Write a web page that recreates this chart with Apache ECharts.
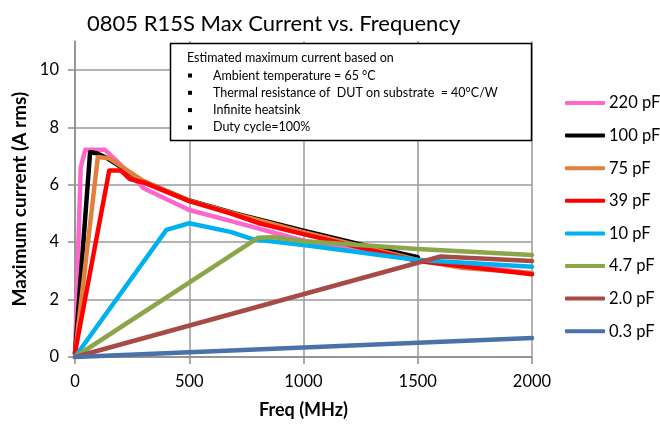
<!DOCTYPE html>
<html>
<head>
<meta charset="utf-8">
<script src="https://cdn.jsdelivr.net/npm/echarts@6/dist/echarts.min.js"></script>
<style>html,body{margin:0;padding:0;background:#fff;}#c{width:660px;height:424px;}</style>
</head>
<body>
<div id="c"></div>
<script>
// ---- data (freq MHz, current A rms) ----
const seriesNames = ['220 pF', '100 pF', '75 pF', '39 pF', '10 pF', '4.7 pF', '2.0 pF', '0.3 pF'];
const s220 = [[0,0.1],[25,6.6],[45,7.22],[130,7.22],[180,6.85],[300,5.88],[500,5.12],[700,4.7],[1000,4.05],[1500,3.4],[2000,2.92]];
const s100 = [[0,0.1],[66,7.13],[95,7.1],[140,6.93],[200,6.62],[300,6.12],[500,5.45],[700,5.0],[1000,4.4],[1250,3.92],[1500,3.48]];
const s75  = [[0,0.1],[100,6.97],[150,6.92],[200,6.66],[300,6.12],[500,5.45],[700,4.98],[1000,4.35],[1500,3.38],[1700,3.1],[2000,2.93]];
const s39  = [[0,0.15],[150,6.5],[200,6.5],[240,6.2],[300,6.08],[500,5.43],[680,5.0],[810,4.65],[1000,4.28],[1500,3.34],[2000,2.88]];
const s10  = [[0,0],[400,4.43],[500,4.66],[680,4.36],[780,4.1],[1000,3.9],[1500,3.38],[2000,3.14]];
const s4_7 = [[0,0],[800,4.15],[870,4.17],[1000,4.03],[1500,3.76],[2000,3.55]];
const s2_0 = [[0,0],[1600,3.5],[2000,3.34]];
const s0_3 = [[0,0],[2000,0.66]];
const xTicks = [0, 500, 1000, 1500, 2000];
const yTicks = [0, 2, 4, 6, 8, 10];
const noteTitle = 'Estimated maximum current based on';
const noteItems = ['Ambient temperature = 65 °C', 'Thermal resistance of  DUT on substrate  = 40°C/W', 'Infinite heatsink', 'Duty cycle=100%'];

const colors = ['#ff66cc', '#000000', '#e0803c', '#ff0000', '#00b0f0', '#8aa64a', '#a84a45', '#4a72a8'];
const allData = [s220, s100, s75, s39, s10, s4_7, s2_0, s0_3];
const FONT = 'Lato';

const chart = echarts.init(document.getElementById('c'));

const graphics = [
  { type: 'rect', z: 100, shape: { x: 170.5, y: 43.5, width: 361, height: 97 },
    style: { fill: '#fff', stroke: '#000', lineWidth: 1.5 } },
  { type: 'text', z: 101, x: 187, y: 58,
    style: { text: noteTitle, font: '12.5px ' + FONT, fill: '#000', verticalAlign: 'middle' } }
];
noteItems.forEach((t, i) => {
  const cy = 75.5 + i * 17.3;
  graphics.push({ type: 'rect', z: 101, shape: { x: 188, y: cy - 2, width: 4, height: 4 }, style: { fill: '#000' } });
  graphics.push({ type: 'text', z: 101, x: 213, y: cy,
    style: { text: t, font: '12.5px ' + FONT, fill: '#000', verticalAlign: 'middle' } });
});

chart.setOption({
  animation: false,
  backgroundColor: '#fff',
  title: {
    text: '0805 R15S Max Current vs. Frequency',
    left: 82, top: 8,
    textStyle: { fontFamily: FONT, fontSize: 22, fontWeight: 'normal', color: '#000' }
  },
  legend: {
    orient: 'vertical',
    left: 560, top: 88,
    itemWidth: 40, itemHeight: 4, itemGap: 12.6,
    icon: 'roundRect',
    selectedMode: false,
    data: seriesNames,
    textStyle: { fontFamily: FONT, fontSize: 16.5, color: '#000', lineHeight: 20, padding: [0, 0, 0, -1] }
  },
  grid: { left: 75, right: 128, top: 41.2, bottom: 66 },
  xAxis: {
    type: 'value', min: 0, max: 2000, interval: 500,
    name: 'Freq (MHz)', nameLocation: 'middle', nameGap: 44,
    nameTextStyle: { fontFamily: FONT, fontSize: 18, fontWeight: 'bold', color: '#000' },
    axisLine: { show: true, onZero: false, lineStyle: { color: '#8c8c8c', width: 1.5 } },
    axisTick: { show: true, inside: false, length: 7, customValues: xTicks, lineStyle: { color: '#8c8c8c', width: 1.5 } },
    axisLabel: { margin: 16, fontFamily: FONT, fontSize: 16.5, color: '#000', customValues: xTicks, formatter: v => String(v) },
    splitLine: { show: true, lineStyle: { color: '#9a9a9a', width: 1.5 } }
  },
  yAxis: {
    type: 'value', min: 0, max: 11, interval: 2,
    name: 'Maximum current (A rms)', nameLocation: 'middle', nameGap: 39,
    nameTextStyle: { fontFamily: FONT, fontSize: 19, fontWeight: 'bold', color: '#000' },
    axisLine: { show: true, onZero: false, lineStyle: { color: '#8c8c8c', width: 1.5 } },
    axisTick: { show: true, inside: false, length: 7, customValues: yTicks, lineStyle: { color: '#8c8c8c', width: 1.5 } },
    axisLabel: { margin: 16, fontFamily: FONT, fontSize: 16.5, color: '#000', customValues: yTicks, formatter: v => String(v) },
    splitLine: { show: true, lineStyle: { color: '#9a9a9a', width: 1.5 } }
  },
  series: allData.map((d, i) => ({
    name: seriesNames[i],
    type: 'line',
    data: d,
    showSymbol: false,
    symbol: 'none',
    color: colors[i],
    lineStyle: { width: 4.5, color: colors[i], cap: 'round', join: 'round' },
    z: 2
  })),
  graphic: graphics
});
</script>
</body>
</html>
